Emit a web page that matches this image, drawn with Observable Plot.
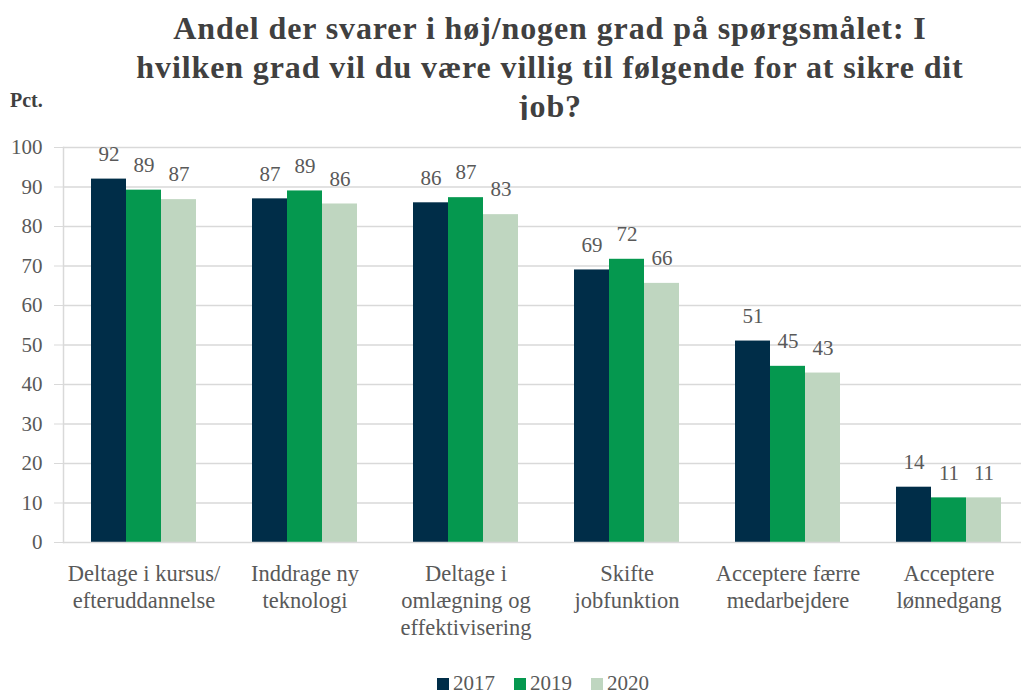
<!DOCTYPE html>
<html>
<head>
<meta charset="utf-8">
<script src="https://cdn.jsdelivr.net/npm/d3@7"></script>
<script src="https://cdn.jsdelivr.net/npm/@observablehq/plot@0.6"></script>
<style>
  body { margin: 0; background: white; font-family: "Liberation Serif", serif; overflow: hidden; }
  #wrap { position: relative; width: 1021px; height: 694px; overflow: hidden; background: white; }
  #title { position: absolute; left: 50px; width: 1000px; top: 9px; text-align: center;
           font-size: 32px; letter-spacing: 0.9px; font-weight: bold; line-height: 39px; color: #404040; }
  #unit { position: absolute; left: 10px; top: 89px; font-size: 20px; font-weight: bold; color: #404040; }
  #chart { position: absolute; left: 0; top: 120px; width: 1030px; }
  #chart svg { max-width: none !important; }
  #chart svg text { font-family: "Liberation Serif", serif; }
  #legend { position: absolute; top: 671px; left: 437px; display: flex; align-items: center;
            font-size: 21px; color: #595959; }
  .item { display: flex; align-items: center; margin-right: 19px; }
  .sw { width: 12px; height: 12px; margin-right: 4px; }
</style>
</head>
<body>
<div id="wrap">
  <div id="title">Andel der svarer i høj/nogen grad på spørgsmålet: I<br>hvilken grad vil du være villig til følgende for at sikre dit<br>job?</div>
  <div id="unit">Pct.</div>
  <div id="chart"></div>
  <div id="legend"></div>
</div>
<script>
const categories = [
  "Deltage i kursus/\nefteruddannelse",
  "Inddrage ny\nteknologi",
  "Deltage i\nomlægning og\neffektivisering",
  "Skifte\njobfunktion",
  "Acceptere færre\nmedarbejdere",
  "Acceptere\nlønnedgang"
];
const years = ["2017", "2019", "2020"];
const v2017 = [92, 87, 86, 69, 51, 14];
const v2019 = [89.2, 89, 87.3, 71.7, 44.6, 11.3];
const v2020 = [86.8, 85.7, 83, 65.6, 42.9, 11.3];
const yTicks = [0, 10, 20, 30, 40, 50, 60, 70, 80, 90, 100];
const colors = ["#002d48", "#05984f", "#bfd6c0"];

const series = [v2017, v2019, v2020];
const data = categories.flatMap((c, i) => years.map((y, j) => ({cat: c, year: y, value: series[j][i]})));

const chart = Plot.plot({
  width: 1030,
  height: 522,
  marginTop: 27,
  marginBottom: 100,
  marginLeft: 62,
  marginRight: 0,
  style: {fontFamily: "'Liberation Serif', serif", fontSize: "20px", color: "#595959", background: "white", maxWidth: "none"},
  fx: {domain: categories, padding: 0, label: null},
  x: {domain: years, paddingInner: 0, paddingOuter: 0.74, axis: null},
  y: {domain: [0, 100], label: null},
  color: {domain: years, range: colors},
  marks: [
    Plot.ruleY(yTicks.slice(1), {stroke: "#d9d9d9", strokeWidth: 1.5}),
    Plot.barY(data, {fx: "cat", x: "year", y: "value", fill: "year"}),
    Plot.ruleY([0], {stroke: "#d9d9d9", strokeWidth: 1.5}),
    Plot.text(data, {fx: "cat", x: "year", y: "value", text: d => d3.format(".0f")(d.value),
      dy: -25, fill: "#595959", fontSize: 21}),
    Plot.axisY({ticks: yTicks, tickSize: 9, tickPadding: 12, stroke: "#d9d9d9", fill: "#595959",
      label: null, fontSize: 21}),
    Plot.axisFx({anchor: "bottom", tickSize: 0, tickPadding: 19, label: null, fontSize: 22.5,
      lineHeight: 1.2, fill: "#595959"}),
    Plot.frame({anchor: "left", stroke: "#d9d9d9", strokeWidth: 1.5, facetAnchor: "left"})
  ]
});
document.getElementById("chart").appendChild(chart);

const legend = document.getElementById("legend");
years.forEach((y, i) => {
  const it = document.createElement("div");
  it.className = "item";
  const sw = document.createElement("div");
  sw.className = "sw";
  sw.style.background = colors[i];
  const t = document.createElement("span");
  t.textContent = y;
  it.appendChild(sw); it.appendChild(t);
  legend.appendChild(it);
});
</script>
</body>
</html>
